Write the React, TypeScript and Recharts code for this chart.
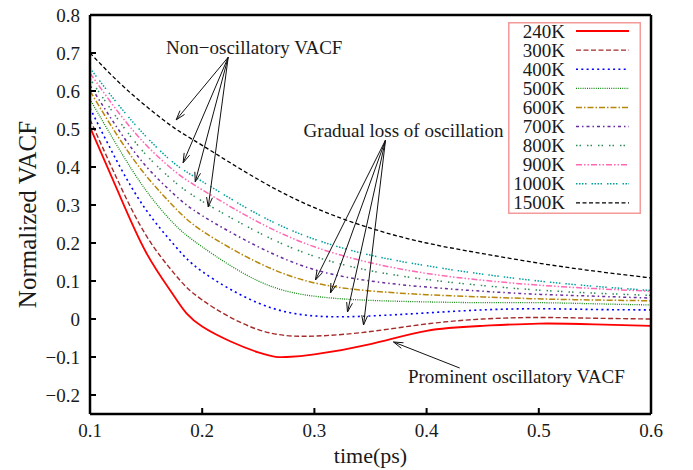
import React from 'react'
import { LineChart, Line, XAxis, YAxis, ReferenceLine, ReferenceDot, Label } from 'recharts'

/* ────────────────────────────────────────────────────────
   Data
───────────────────────────────────────────────────────── */
const TIME = [0.1, 0.125, 0.15, 0.175, 0.2, 0.25, 0.275, 0.3, 0.35, 0.4, 0.45, 0.5, 0.55, 0.6]

const K240  = [0.505, 0.335, 0.175, 0.06, -0.02, -0.088, -0.1, -0.093, -0.066, -0.031, -0.018, -0.012, -0.014, -0.018]
const K300  = [0.525, 0.363, 0.22, 0.12, 0.05, -0.028, null, -0.045, -0.033, -0.013, 0.0, 0.004, 0.002, 0.0]
const K400  = [0.555, 0.41, 0.287, 0.195, 0.125, 0.042, null, 0.008, 0.008, 0.016, 0.024, 0.027, 0.025, 0.024]
const K500  = [0.578, 0.452, 0.338, 0.25, 0.19, 0.1, null, 0.06, 0.049, 0.045, 0.043, 0.043, 0.04, 0.037]
const K600  = [0.6, 0.48, 0.377, 0.295, 0.232, 0.148, null, 0.095, 0.074, 0.064, 0.058, 0.053, 0.05, 0.048]
const K700  = [0.615, 0.5, 0.402, 0.328, 0.272, 0.19, null, 0.13, 0.1, 0.084, 0.073, 0.065, 0.06, 0.055]
const K800  = [0.632, 0.525, 0.432, 0.362, 0.31, 0.228, null, 0.165, 0.127, 0.104, 0.088, 0.076, 0.068, 0.062]
const K900  = [0.647, 0.545, 0.458, 0.39, 0.34, 0.255, null, 0.19, 0.148, 0.12, 0.102, 0.089, 0.08, 0.073]
const K1000 = [0.66, 0.565, 0.48, 0.41, 0.362, 0.275, null, 0.21, 0.168, 0.14, 0.118, 0.1, 0.086, 0.075]
const K1500 = [0.7, 0.625, 0.56, 0.503, 0.457, 0.367, null, 0.293, 0.239, 0.2, 0.172, 0.147, 0.126, 0.108]

const X_TICKS = [0.1, 0.2, 0.3, 0.4, 0.5, 0.6]
const Y_TICKS = [-0.2, -0.1, 0, 0.1, 0.2, 0.3, 0.4, 0.5, 0.6, 0.7, 0.8]

const SERIES = [
  { key: 'k240',  name: '240K',  values: K240,  color: '#ff0000', dash: undefined,              width: 1.8 },
  { key: 'k300',  name: '300K',  values: K300,  color: '#a52a2a', dash: '5 2.5',                width: 1.4 },
  { key: 'k400',  name: '400K',  values: K400,  color: '#0000ff', dash: '2 3.3',                width: 1.6 },
  { key: 'k500',  name: '500K',  values: K500,  color: '#118a11', dash: '1 1.2',                width: 1.3 },
  { key: 'k600',  name: '600K',  values: K600,  color: '#b8860b', dash: '6 2 1.5 2',            width: 1.5 },
  { key: 'k700',  name: '700K',  values: K700,  color: '#6a2c9e', dash: '3 3 1.5 3',            width: 1.5 },
  { key: 'k800',  name: '800K',  values: K800,  color: '#2e8b57', dash: '1.5 2 1.5 6',          width: 1.5 },
  { key: 'k900',  name: '900K',  values: K900,  color: '#ff69b4', dash: '6 2 1.5 2 1.5 2',      width: 1.5 },
  { key: 'k1000', name: '1000K', values: K1000, color: '#00a0a0', dash: '1.5 1.5 1.5 1.5 1.5 1.5 1.5 5', width: 1.5 },
  { key: 'k1500', name: '1500K', values: K1500, color: '#000000', dash: '4 2.5',                width: 1.3 },
]

const DATA = TIME.map((t, i) => {
  const row: Record<string, number | null> = { t }
  SERIES.forEach(s => { row[s.key] = s.values[i] })
  return row
})

/* annotations, in data coordinates */
const NOTES = [
  { text: 'Non\u2212oscillatory VACF', x: 0.2464, y: 0.716 },
  { text: 'Gradual loss of oscillation', x: 0.3795, y: 0.497 },
  { text: 'Prominent oscillatory VACF', x: 0.48, y: -0.15 },
]

const ARROWS = [
  { from: [0.2232, 0.689], to: [0.1768, 0.524] },
  { from: [0.2232, 0.689], to: [0.183, 0.411] },
  { from: [0.2232, 0.689], to: [0.1938, 0.361] },
  { from: [0.2232, 0.689], to: [0.2054, 0.295] },
  { from: [0.3634, 0.471], to: [0.3009, 0.1026] },
  { from: [0.3634, 0.471], to: [0.3143, 0.0684] },
  { from: [0.3634, 0.471], to: [0.3295, 0.0184] },
  { from: [0.3634, 0.471], to: [0.3438, -0.0158] },
  { from: [0.4295, -0.129], to: [0.3705, -0.0605] },
]

/* ────────────────────────────────────────────────────────
   Styles
───────────────────────────────────────────────────────── */
const FONT = '"Liberation Serif", "Times New Roman", serif'
const TEXT = '#1a1a1a'
const TICK_STYLE = { fill: TEXT, fontSize: 19, fontFamily: FONT }
const AXIS_LINE = { stroke: '#000', strokeWidth: 2.5 }
const TICK_LINE = { stroke: '#000', strokeWidth: 2 }

const fmtY = (v: number) => (v === 0 ? '0' : v < 0 ? `\u2212${(-v).toFixed(1)}` : v.toFixed(1))

function Arrow(p: any) {
  const { x1, y1, x2, y2 } = p
  const a = Math.atan2(y2 - y1, x2 - x1)
  const L = 10
  const w = 0.3
  const ax = x2 - L * Math.cos(a - w)
  const ay = y2 - L * Math.sin(a - w)
  const bx = x2 - L * Math.cos(a + w)
  const by = y2 - L * Math.sin(a + w)
  return (
    <g>
      <line x1={x1} y1={y1} x2={x2} y2={y2} stroke="#111" strokeWidth={1} />
      <polyline points={`${ax},${ay} ${x2},${y2} ${bx},${by}`} fill="none" stroke="#111" strokeWidth={1} />
    </g>
  )
}

function YTitle(props: any) {
  const vb = props.viewBox || { x: 0, y: 15, width: 90, height: 399 }
  const cx = vb.x + 27
  const cy = vb.y + vb.height / 2
  return (
    <text x={cx} y={cy} transform={`rotate(-90 ${cx} ${cy})`} textAnchor="middle" dominantBaseline="central"
      fill={TEXT} fontSize={25} fontFamily={FONT}>
      Normalized VACF
    </text>
  )
}

function XTitle(props: any) {
  const vb = props.viewBox || { x: 90, y: 414, width: 561, height: 56 }
  return (
    <text x={vb.x + vb.width / 2} y={vb.y + 49} textAnchor="middle" fill={TEXT} fontSize={22} fontFamily={FONT}>
      time(ps)
    </text>
  )
}

function LegendBox() {
  const rowH = 19.1
  return (
    <div style={{ position: 'absolute', left: 508, top: 22, width: 133, height: 192 }}>
      <svg width={133} height={192}>
        <rect x={0.75} y={0.75} width={131.5} height={190.5} fill="#fff" stroke="#f39a9a" strokeWidth={1.5} />
        {SERIES.map((s, i) => {
          const cy = 9 + i * rowH
          return (
            <g key={s.key}>
              <text x={57} y={cy + 6.5} textAnchor="end" fill={TEXT} fontSize={19} fontFamily={FONT}>{s.name}</text>
              <line x1={68} y1={cy} x2={121} y2={cy} stroke={s.color} strokeWidth={s.width} strokeDasharray={s.dash} />
            </g>
          )
        })}
      </svg>
    </div>
  )
}

export default function App() {
  return (
    <div style={{ position: 'absolute', left: 0, top: 0, width: 693, height: 470, background: '#fff' }}>
      <LineChart width={693} height={470} data={DATA} margin={{ top: 14, right: 41, left: 0, bottom: 0 }}
        style={{ fontFamily: FONT }}>
        <XAxis dataKey="t" type="number" domain={[0.1, 0.6]} ticks={X_TICKS} tickFormatter={(v: number) => v.toFixed(1)}
          height={56} stroke="#000" axisLine={AXIS_LINE} tickLine={TICK_LINE} tickSize={-6} tickMargin={16}
          tick={TICK_STYLE} interval={0}>
          <Label content={XTitle} />
        </XAxis>
        <XAxis xAxisId="top" orientation="top" dataKey="t" type="number" domain={[0.1, 0.6]} ticks={X_TICKS}
          height={1} stroke="#000" axisLine={AXIS_LINE} tickLine={TICK_LINE} tickSize={-6} tick={false} interval={0} />
        <YAxis type="number" domain={[-0.25, 0.8]} ticks={Y_TICKS} tickFormatter={fmtY} width={90} stroke="#000"
          axisLine={AXIS_LINE} tickLine={TICK_LINE} tickSize={-6} tickMargin={16} tick={TICK_STYLE} interval={0}>
          <Label content={YTitle} />
        </YAxis>
        <YAxis yAxisId="right" orientation="right" type="number" domain={[-0.25, 0.8]} ticks={Y_TICKS} width={1}
          stroke="#000" axisLine={AXIS_LINE} tickLine={TICK_LINE} tickSize={-6} tick={false} interval={0} />

        {SERIES.map(s => (
          <Line key={s.key} type="natural" dataKey={s.key} name={s.name} stroke={s.color} strokeWidth={s.width}
            strokeDasharray={s.dash} dot={false} activeDot={false} connectNulls isAnimationActive={false} />
        ))}

        {ARROWS.map((a, i) => (
          <ReferenceLine key={`arrow-${i}`} segment={[{ x: a.from[0], y: a.from[1] }, { x: a.to[0], y: a.to[1] }]}
            stroke="#111" shape={Arrow} />
        ))}
        {NOTES.map((n, i) => (
          <ReferenceDot key={`note-${i}`} x={n.x} y={n.y} r={0} fill="none" stroke="none"
            label={{ value: n.text, position: 'center', fill: TEXT, fontSize: 19, fontFamily: FONT }} />
        ))}
      </LineChart>
      <LegendBox />
    </div>
  )
}
